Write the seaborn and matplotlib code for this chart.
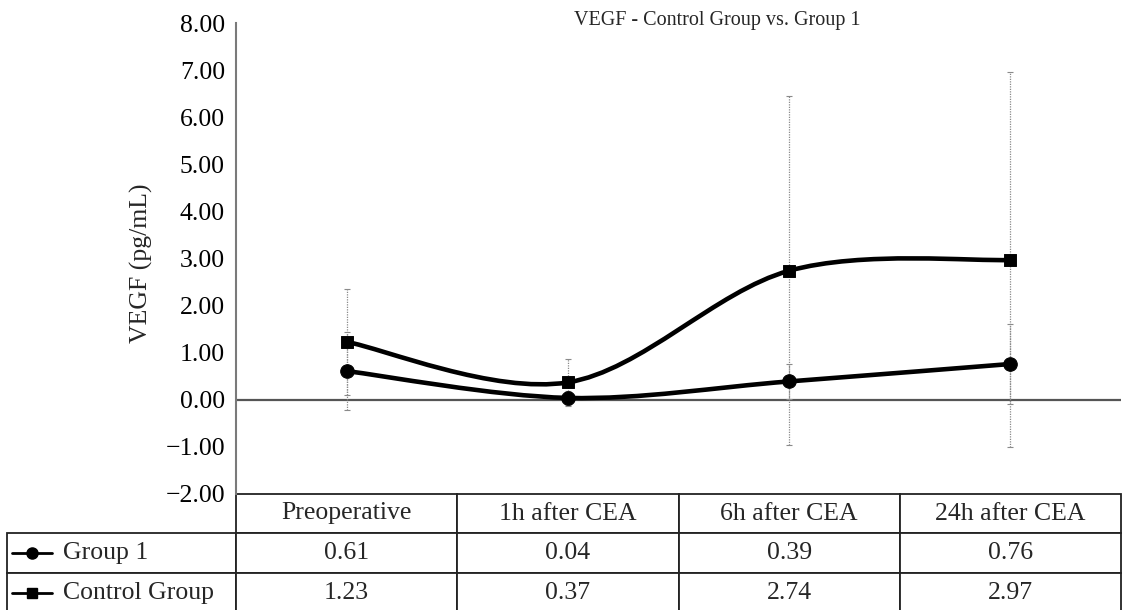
import numpy as np
import pandas as pd
import matplotlib
matplotlib.use("Agg")
import matplotlib.pyplot as plt
import seaborn as sns
from matplotlib.path import Path
from matplotlib.patches import PathPatch
from matplotlib.table import Table
from matplotlib.ticker import FuncFormatter, MultipleLocator

# data
timepoints = ["Preoperative", "1h after CEA", "6h after CEA", "24h after CEA"]
group1 = [0.61, 0.04, 0.39, 0.76]
control = [1.23, 0.37, 2.74, 2.97]
group1_sd = [0.82, 0.14, 0.37, 0.85]
control_sd = [1.13, 0.50, 3.70, 3.98]
series_names = ["Group 1", "Control Group"]

sns.set_theme(style="white")
plt.rcParams['font.family'] = ['Liberation Serif', 'DejaVu Serif']

df = pd.DataFrame({"x": np.arange(len(timepoints)), "group1": group1, "control": control})

W, H = 1126, 610
fig = plt.figure(figsize=(W / 100, H / 100), dpi=100)
# axes box in pixels: left 236, right 1121, top 23, bottom 494
ax = fig.add_axes([236 / W, 1 - 494 / H, (1121 - 236) / W, (494 - 23) / H])
ax.set_xlim(-0.5, len(timepoints) - 0.5)
ax.set_ylim(-2, 8)


def smooth_path(xs, ys):
    # excel-like smoothed line: catmull-rom turned into cubic bezier pieces
    pts = np.column_stack([xs, ys]).astype(float)
    n = len(pts)
    verts = [pts[0]]
    codes = [Path.MOVETO]
    for i in range(n - 1):
        p0 = pts[i - 1] if i > 0 else pts[i]
        p1, p2 = pts[i], pts[i + 1]
        p3 = pts[i + 2] if i + 2 < n else pts[i + 1]
        c1 = p1 + (p2 - p0) / 6
        c2 = p2 - (p3 - p1) / 6
        verts += [c1, c2, p2]
        codes += [Path.CURVE4] * 3
    return Path(verts, codes)


ax.axhline(0, color="#555555", lw=1.6, zorder=1.5)

for vals, sd in [(group1, group1_sd), (control, control_sd)]:
    eb = ax.errorbar(df["x"], vals, yerr=sd, fmt="none", ecolor="#8a8a8a",
                     elinewidth=0.9, capsize=2.5, capthick=0.8, zorder=2)
    eb.lines[2][0].set_linestyle((0, (1, 1)))

for col in ["group1", "control"]:
    ax.add_patch(PathPatch(smooth_path(df["x"], df[col]), facecolor="none",
                           edgecolor="black", lw=3.3, capstyle="round", zorder=3))

sns.scatterplot(data=df, x="x", y="group1", marker="o", s=95, color="black",
                edgecolor="black", ax=ax, zorder=4, legend=False)
sns.scatterplot(data=df, x="x", y="control", marker="s", s=70, color="black",
                edgecolor="black", ax=ax, zorder=4, legend=False)

# axes styling
for s in ["top", "right", "bottom"]:
    ax.spines[s].set_visible(False)
ax.spines["left"].set_color("#7a7a7a")
ax.spines["left"].set_linewidth(1.5)
ax.set_xticks([])
ax.set_xlabel("")
ax.yaxis.set_major_locator(MultipleLocator(1))
ax.yaxis.set_major_formatter(FuncFormatter(lambda v, p: f"{v:.2f}".replace("-", "\u2212")))
ax.tick_params(axis="y", length=0, pad=8, labelsize=18.5, colors="black")
ax.set_ylabel("VEGF (pg/mL)", fontsize=18.5)
ax.yaxis.set_label_coords(-0.094, 0.49)

fig.text(717 / W, 1 - 20 / H, "VEGF - Control Group vs. Group 1",
         ha="center", va="center", fontsize=14.5)

# data table under the plot
ax_w, ax_h = 1121 - 236, 494 - 23
tab = Table(ax, bbox=[-(236 - 7) / ax_w, -(613 - 494) / ax_h, (1121 - 7) / ax_w, (613 - 494) / ax_h])
col_w = [229] + [221.25] * len(timepoints)
row_h = [39, 40, 40]
rows = [[""] + timepoints,
        [series_names[0]] + [f"{v:.2f}" for v in group1],
        [series_names[1]] + [f"{v:.2f}" for v in control]]
for r, row in enumerate(rows):
    for c, txt in enumerate(row):
        cell = tab.add_cell(r, c, width=col_w[c], height=row_h[r], text=txt,
                            loc="left" if c == 0 else "center",
                            edgecolor="#222222", facecolor="white")
        cell.set_linewidth(1.3)
        if c == 0:
            cell.PAD = 0.245
        if r == 0 and c == 0:
            cell.visible_edges = "open"
tab.auto_set_font_size(False)
tab.set_fontsize(18.5)
ax.add_table(tab)
tab.set_clip_on(False)

# legend keys inside the row labels
for r, mk, ms in [(1, "o", 8), (2, "s", 7)]:
    yc = -(sum(row_h[:r]) + row_h[r] / 2) / ax_h
    ax.plot([(12 - 236) / ax_w, (52 - 236) / ax_w], [yc, yc], color="black", lw=2,
            transform=ax.transAxes, clip_on=False)
    ax.plot([(32 - 236) / ax_w], [yc], marker=mk, ms=ms, color="black",
            transform=ax.transAxes, clip_on=False)

fig.savefig("out.png", dpi=100)
